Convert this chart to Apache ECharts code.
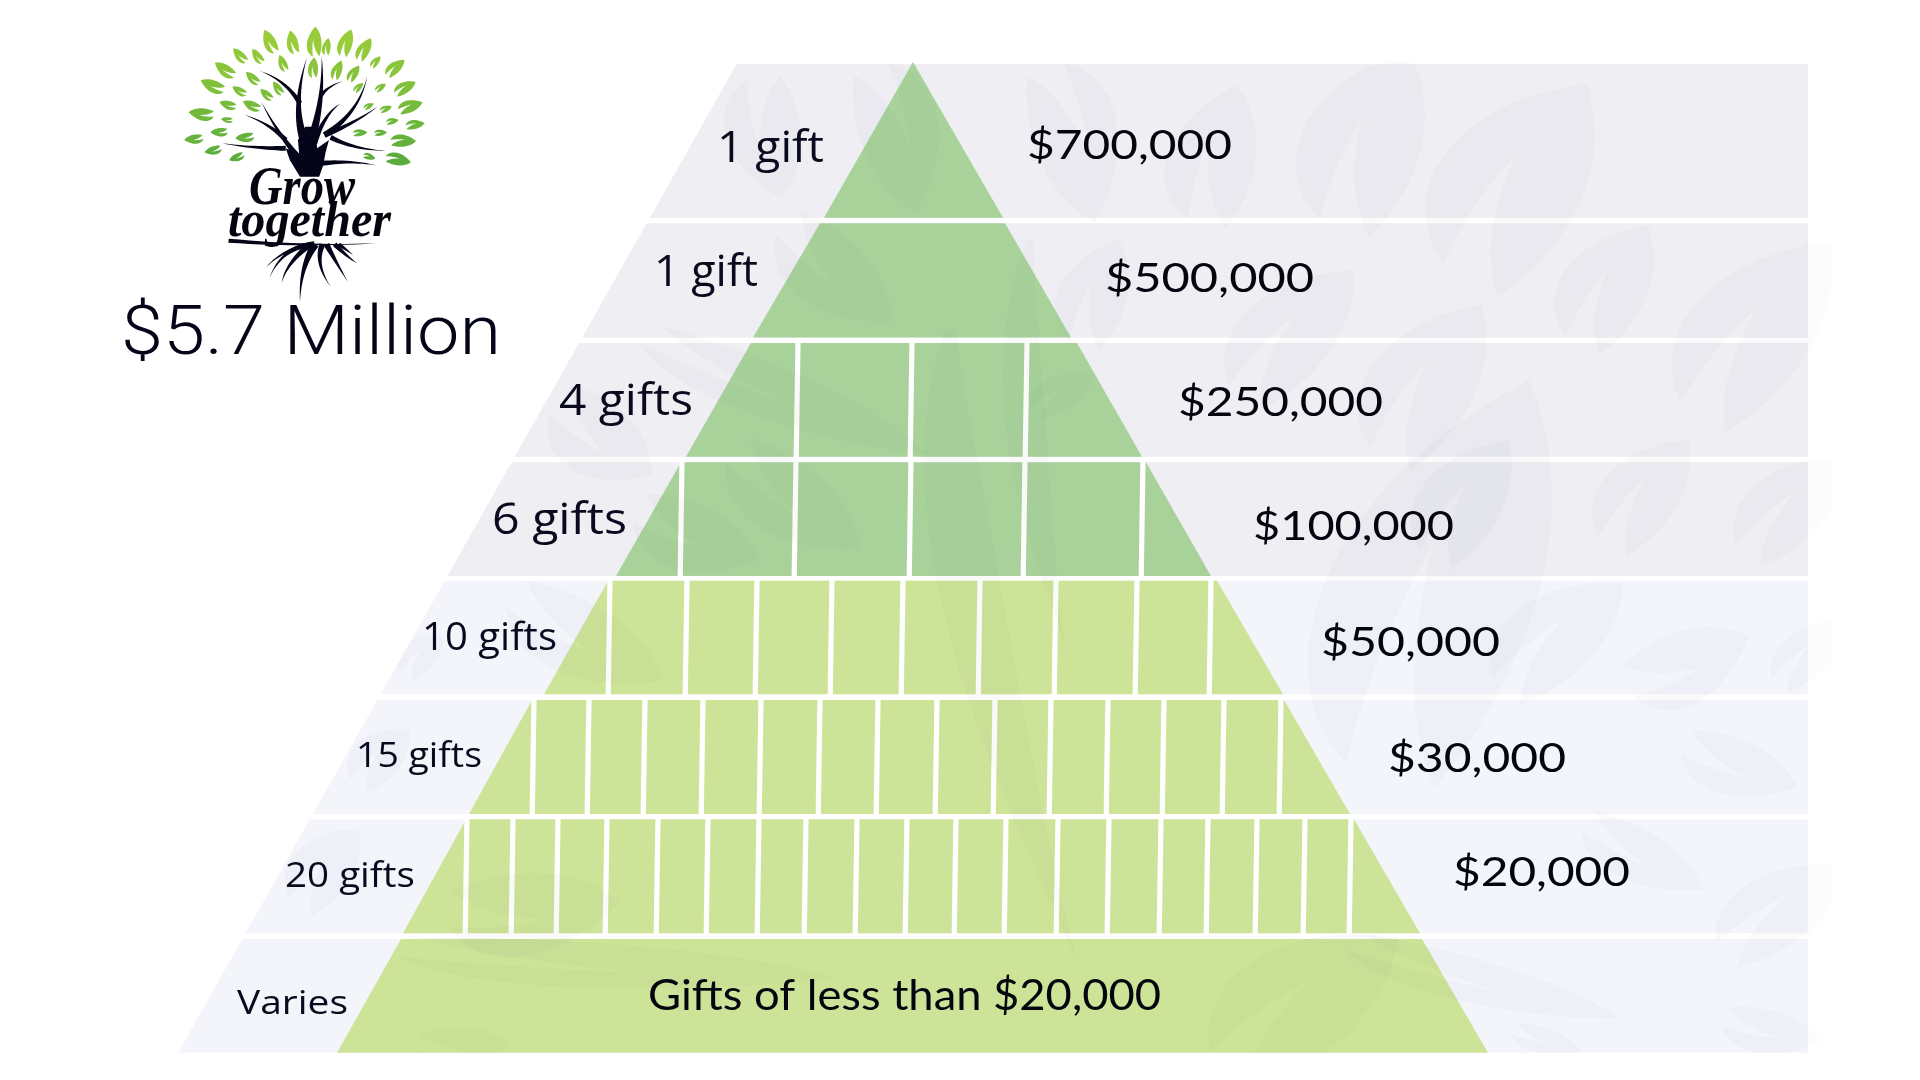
<!DOCTYPE html>
<html><head><meta charset="utf-8">
<style>html,body{margin:0;padding:0;background:#fff}#c{width:1920px;height:1080px}</style>
<script src="https://cdn.jsdelivr.net/npm/echarts@6/dist/echarts.min.js"></script>
</head><body><div id="c"></div>
<script>
// ---- chart content ----
const campaignTotal = '$5.7 Million';
const logoWords = ['Grow', 'together'];
const tierLabels = ['1 gift','1 gift','4 gifts','6 gifts','10 gifts','15 gifts','20 gifts','Varies'];
const amountLabels = ['$700,000','$500,000','$250,000','$100,000','$50,000','$30,000','$20,000','Gifts of less than $20,000'];
const giftCounts = [1,1,4,6,10,15,20,null];
// tier extents and cell boundaries, read on the page-position axes
const tierTop = [62,223.3,343,462.3,580.7,700,819.3,939];
const tierBottom = [217.7,337.4,456.7,576,694.3,814,933.3,1052.7];
const tierLeftTop = [913,820,751,681,608,532,466,401];
const tierLeftBottom = [824,753,686,616,544,469,403,337];
const tierRightTop = [913,1005,1077,1146,1217,1284,1354,1422];
const tierRightBottom = [1003,1071,1142,1211,1283,1350,1420,1488];
const cellDividers = [
  [],[],
  [798,912,1027],
  [682,796,911,1025,1143],
  [610,687,757,832,903,980,1056,1137,1211],
  [534,589,645,703,761,820,878,937,995,1051,1108,1164,1224,1281],
  [467,513,558,607,658,708,759,806,857,907,956,1006,1058,1109,1161,1208,1257,1305,1351]
];
// label layout
const giftLabelLeft = [717,654,559,492,422,356,285,237];
const giftLabelWidth = [107,104,134,135,135,126,130,111];
const giftLabelBase = [163,287,415.5,534.5,651,768,888,1014];
const giftLabelSize = [44,44,44,44,39,35,34,33];
const amountLabelLeft = [1027,1105,1178,1253,1321,1388,1453,648];
const amountLabelWidth = [205,209,205,201,179,178,177,513];
const amountLabelBase = [158,291,415,539,655,771,885,1009];
const amountLabelSize = [41,41,41,41,41,41,41,42];
// watermark leaves: base x, base y, tip x, tip y, breadth ratio, flip
const watermarkLeaves = [
  [1443,265,1590,86,.7,1],[1320,220,1411,50,.7,1],[1188,220,1239,86,.7,1],[1566,337,1650,227,.7,1],
  [1681,403,1833,244,.62,1],[1370,448,1484,306,.65,1],[1229,386,1355,272,.6,1],[1599,537,1690,441,.65,1],
  [1420,551,1510,441,.65,1],[1736,544,1850,460,.6,1],[1346,764,1534,382,.55,1],[1493,678,1625,585,.6,1],
  [1634,696,1748,634,.65,-1],[1772,678,1850,620,.55,1],[1681,754,1798,785,.55,-1],[1581,830,1704,888,.45,-1],
  [1346,950,1622,1018,.18,-1],[1716,943,1850,868,.55,1],[1722,1026,1822,1040,.5,-1],[1510,1033,1581,1050,.4,-1],
  [887,63,915,213,.6,1],[1063,63,1093,223,.6,1],[747,80,783,198,.7,-1],[777,235,893,320,.6,-1],
  [1030,407,1095,375,.55,1],[450,927,620,900,.55,-1],[507,608,665,678,.5,-1],[727,463,862,547,.55,-1],
  [633,522,760,557,.6,-1],[417,1052,510,1043,.5,-1],[400,672,443,635,.7,1],[550,413,653,473,.75,-1],
  [1070,340,1120,240,.7,1],[1210,1052,1400,940,.6,1],[640,343,930,453,.2,-1],
  [290,900,360,830,.7,1],[350,780,410,730,.7,1],[400,957,833,977,.12,-1]
];
const watermarkRibbons = [
  [950,330,925,560,1110,1052,62],[1030,240,1000,420,1080,700,40]
];
// logo (leaf centre x, centre y, size)
const logoLeaves = [
  [660,125,32],[716,127,30],[770,125,38],[800,140,22],[847,128,36],[892,147,32],[587,167,24],[630,169,22],[692,190,22],
  [920,185,18],[968,202,30],[767,203,26],[826,210,26],[866,220,24],[550,210,30],[618,235,22],[992,262,30],[520,258,32],
  [586,273,20],[680,265,20],[878,262,16],[932,262,16],[652,284,20],[1005,318,32],[558,315,22],[616,317,24],[945,326,16],
  [903,318,14],[493,343,32],[556,360,15],[961,363,16],[1017,373,24],[537,397,22],[882,398,18],[932,398,16],[600,413,24],
  [475,418,24],[988,422,32],[522,452,22],[905,470,16],[580,473,20],[976,478,32]
];
const logoBranches = [
  [745,420,715,320,752,172,9],[760,430,795,300,788,168,9],[730,470,680,400,640,305,6],[700,420,660,370,600,345,5],
  [700,445,620,445,545,430,5],[735,310,700,240,635,212,5],[770,430,795,340,835,310,6],[795,405,880,340,900,228,6],
  [795,405,870,370,925,320,5.5],[810,412,870,450,945,452,5],[790,490,860,480,925,497,5],[785,290,800,260,840,243,4],
  [560,722,740,740,920,730,4],[770,733,690,740,660,835,6],[760,733,700,790,690,850,6],[772,733,735,800,735,905,8],
  [790,733,770,790,810,860,6],[800,733,820,780,852,845,6],[820,733,850,770,875,790,5],[830,733,850,750,865,765,4],[745,735,680,760,650,805,4]
];
const logoTrunk = [735,530,782,530,792,495,798,455,806,420,777,445,772,380,748,380,730,420,733,462,700,445,710,480];

// ---- geometry helpers ----
const bandLeft = y => 736.7 - 0.565 * (y - 64);
const bandRight = 1808;
const lx = x => x / 2.45, ly = y => y / 3;

function bez(p0, c1, c2, p3, n) {
  const r = [];
  for (let i = 0; i <= n; i++) { const t = i / n, u = 1 - t;
    r.push([u*u*u*p0[0]+3*u*u*t*c1[0]+3*u*t*t*c2[0]+t*t*t*p3[0], u*u*u*p0[1]+3*u*u*t*c1[1]+3*u*t*t*c2[1]+t*t*t*p3[1]]);
  }
  return r;
}
const leafUnit = [].concat(
  bez([0,0],[.1,-.42],[.55,-.52],[1,-.02],14),
  bez([1,-.02],[.8,.34],[.42,.46],[.04,.32],14),
  bez([.04,.32],[.15,.13],[.3,.02],[.56,-.07],8),
  bez([.56,-.07],[.3,-.09],[.12,-.04],[0,0],8)
);
function leafPoints(bx, by, tx, ty, ratio, flip) {
  const dx = tx - bx, dy = ty - by, L = Math.hypot(dx, dy), ux = dx / L, uy = dy / L, w = L * ratio * 1.2;
  return leafUnit.map(p => { const a = p[0] * L, b = p[1] * w * (flip || 1);
    return [bx + ux * a - uy * b, by + uy * a + ux * b]; });
}
function ribbonPoints(r) {
  const [x0,y0,x1,y1,x2,y2,w] = r, a = [], b = [];
  for (let i = 0; i <= 24; i++) { const t = i / 24, u = 1 - t;
    const x = u*u*x0 + 2*u*t*x1 + t*t*x2, y = u*u*y0 + 2*u*t*y1 + t*t*y2;
    let tx = 2*u*(x1-x0)+2*t*(x2-x1), ty = 2*u*(y1-y0)+2*t*(y2-y1); const l = Math.hypot(tx,ty)||1; tx/=l; ty/=l;
    const h = w/2 * Math.sin(Math.PI*Math.min(1,t*1.05+.06));
    a.push([x-ty*h,y+tx*h]); b.unshift([x+ty*h,y-tx*h]);
  }
  return a.concat(b);
}
function branchPoints(b) {
  const [x0,y0,x1,y1,x2,y2,w] = b, a = [], c = [];
  for (let i = 0; i <= 14; i++) { const t = i / 14, u = 1 - t;
    const x = lx(u*u*x0 + 2*u*t*x1 + t*t*x2), y = ly(u*u*y0 + 2*u*t*y1 + t*t*y2);
    let tx = 2*u*(x1-x0)/2.45+2*t*(x2-x1)/2.45, ty = 2*u*(y1-y0)/3+2*t*(y2-y1)/3; const l = Math.hypot(tx,ty)||1; tx/=l; ty/=l;
    const h = (w/2) * (1 - t);
    a.push([x-ty*h,y+tx*h]); c.unshift([x+ty*h,y-tx*h]);
  }
  return a.concat(c);
}
const mctx = document.createElement('canvas').getContext('2d');
function fittedText(api, str, font, left, base, size, width, color, ascent) {
  mctx.font = font;
  const m = mctx.measureText(str).width;
  const p = api.coord([left, base - size * ascent]);
  return { type:'text', x:p[0], y:p[1], scaleX: width / m,
    style:{ text:str, font:font, fill:color, textAlign:'left', textVerticalAlign:'middle', verticalAlign:'middle' } };
}
const poly = (api, pts, fill) => ({ type:'polygon', shape:{ points: pts.map(p => api.coord(p)) }, style:{ fill } });

const tierIdx = tierLabels.map((_, i) => i);
const dividerData = [];
cellDividers.forEach((list, t) => list.forEach(x => dividerData.push([t, x])));
const watermarkData = watermarkLeaves.map(l => leafPoints(l[0],l[1],l[2],l[3],l[4],l[5])).concat(watermarkRibbons.map(ribbonPoints));

const series = [
 { name:'bands', type:'custom', coordinateSystem:'cartesian2d', z:1, silent:true, data:tierIdx,
   renderItem:(p, api) => { const i = p.dataIndex, t = Math.max(tierTop[i], 64), b = tierBottom[i];
     return poly(api, [[bandLeft(t),t],[bandRight,t],[bandRight,b],[bandLeft(b),b]], i < 4 ? '#eeeef3' : '#f4f5fb'); } },
 { name:'pyramid', type:'custom', coordinateSystem:'cartesian2d', z:2, silent:true, data:tierIdx,
   renderItem:(p, api) => { const i = p.dataIndex, t = tierTop[i], b = tierBottom[i];
     return poly(api, [[tierLeftTop[i],t],[tierRightTop[i],t],[tierRightBottom[i],b],[tierLeftBottom[i],b]], i < 4 ? '#a8d29a' : '#cde498'); } },
 { name:'cells', type:'custom', coordinateSystem:'cartesian2d', z:3, silent:true, data:dividerData,
   renderItem:(p, api) => { const d = dividerData[p.dataIndex], t = tierTop[d[0]] - 2, b = tierBottom[d[0]] + 2;
     const a = api.coord([d[1], t]), c = api.coord([d[1] - 1.8, b]);
     return { type:'line', shape:{ x1:a[0], y1:a[1], x2:c[0], y2:c[1] }, style:{ stroke:'#fff', lineWidth:5.2 } }; } },
 { name:'watermark', type:'custom', coordinateSystem:'cartesian2d', z:4, silent:true, data:watermarkData.map((_, i) => i),
   renderItem:(p, api) => { const pts = watermarkData[p.dataIndex];
     const clampY = y => Math.min(1053, Math.max(63, y));
     const main = pts.map(q => { const y = clampY(q[1]); return [Math.min(bandRight, Math.max(bandLeft(y), q[0])), y]; });
     const outer = pts.map(q => { const y = clampY(q[1]); return [Math.min(1833, Math.max(bandRight, q[0])), y]; });
     return { type:'group', children:[ poly(api, main, 'rgba(40,40,70,0.024)'), poly(api, outer, 'rgba(40,40,70,0.014)') ] }; } },
 { name:'gift labels', type:'custom', coordinateSystem:'cartesian2d', z:6, silent:true, data:tierIdx,
   renderItem:(p, api) => { const i = p.dataIndex;
     return fittedText(api, tierLabels[i], '500 ' + giftLabelSize[i] + 'px "Open Sans"', giftLabelLeft[i], giftLabelBase[i], giftLabelSize[i], giftLabelWidth[i], '#0a0a1e', .3); } },
 { name:'amount labels', type:'custom', coordinateSystem:'cartesian2d', z:6, silent:true, data:tierIdx,
   renderItem:(p, api) => { const i = p.dataIndex;
     return fittedText(api, amountLabels[i], amountLabelSize[i] + 'px Lato', amountLabelLeft[i], amountLabelBase[i], amountLabelSize[i], amountLabelWidth[i], '#050510', .3); } },
 { name:'logo', type:'custom', coordinateSystem:'cartesian2d', z:7, silent:true, data:[0],
   renderItem:(p, api) => {
     const kids = [];
     logoLeaves.forEach(l => {
       const cx = lx(l[0]), cy = ly(l[1]), dx = cx - 306, dy = cy - 135, d = Math.hypot(dx, dy) || 1, L = l[2] * .8;
       const ux = dx / d, uy = dy / d;
       const bx = cx - ux * L / 2, by = cy - uy * L / 2, tx = cx + ux * L / 2, ty = cy + uy * L / 2;
       const k = Math.min(1, Math.max(0, (cy - 30) / 130));
       const c = 'rgb(' + Math.round(158 - 68 * k) + ',' + Math.round(207 - 35 * k) + ',' + Math.round(58 + 2 * k) + ')';
       kids.push(poly(api, leafPoints(bx, by, tx, ty, .55, 1), c));
     });
     const tr = []; for (let i = 0; i < logoTrunk.length; i += 2) tr.push([lx(logoTrunk[i]), ly(logoTrunk[i+1])]);
     kids.push(poly(api, tr, '#05051a'));
     logoBranches.forEach(b => kids.push(poly(api, branchPoints(b), '#05051a')));
     kids.push(fittedText(api, logoWords[0], 'italic bold 54px "Liberation Serif"', 249, 204, 54, 106, '#050510', .25));
     kids.push(fittedText(api, logoWords[1], 'italic bold 50px "Liberation Serif"', 228, 236, 50, 163, '#050510', .25));
     kids.push(fittedText(api, campaignTotal, '300 68px Roboto', 121, 357, 68, 380, '#05051a', .3));
     return { type:'group', children:kids };
   } }
];

const chart = echarts.init(document.getElementById('c'), null, { renderer:'canvas' });
chart.setOption({
  animation:false, backgroundColor:'#fff', tooltip:{ show:false },
  grid:{ left:0, right:0, top:0, bottom:0 },
  xAxis:{ type:'value', min:0, max:1920, show:false },
  yAxis:{ type:'value', min:0, max:1080, inverse:true, show:false },
  series
});
</script></body></html>
